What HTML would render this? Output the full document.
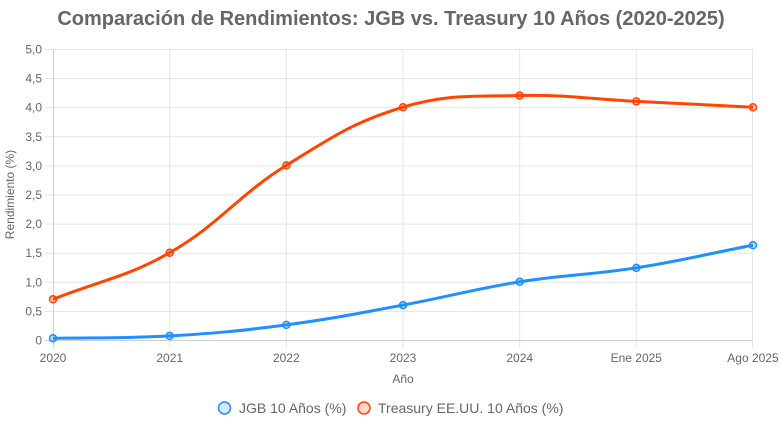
<!DOCTYPE html>
<html><head><meta charset="utf-8"><style>
html,body{margin:0;padding:0;background:#fff;}
svg{display:block;font-family:"Liberation Sans",Arial,sans-serif;}
</style></head><body>
<svg id="c" width="782" height="425" viewBox="0 0 782 425" xmlns="http://www.w3.org/2000/svg">
<text x="391" y="25" text-anchor="middle" font-size="20" font-weight="bold" fill="#666">Comparación de Rendimientos: JGB vs. Treasury 10 Años (2020-2025)</text>
<g stroke="#e5e5e5" stroke-width="1">
<line x1="45" y1="49.5" x2="753" y2="49.5"/>
<line x1="45" y1="78.6" x2="753" y2="78.6"/>
<line x1="45" y1="107.7" x2="753" y2="107.7"/>
<line x1="45" y1="136.8" x2="753" y2="136.8"/>
<line x1="45" y1="165.9" x2="753" y2="165.9"/>
<line x1="45" y1="195" x2="753" y2="195"/>
<line x1="45" y1="224.1" x2="753" y2="224.1"/>
<line x1="45" y1="253.2" x2="753" y2="253.2"/>
<line x1="45" y1="282.3" x2="753" y2="282.3"/>
<line x1="45" y1="311.4" x2="753" y2="311.4"/>
<line x1="169.7" y1="49" x2="169.7" y2="348"/>
<line x1="286.3" y1="49" x2="286.3" y2="348"/>
<line x1="403" y1="49" x2="403" y2="348"/>
<line x1="519.7" y1="49" x2="519.7" y2="348"/>
<line x1="636.3" y1="49" x2="636.3" y2="348"/>
<line x1="752.5" y1="49" x2="752.5" y2="348"/>
</g>
<g stroke="#cfcfcf" stroke-width="1">
<line x1="53.5" y1="49" x2="53.5" y2="348"/>
<line x1="45" y1="340.5" x2="753" y2="340.5"/>
</g>
<g font-size="12" fill="#666" text-anchor="end">
<text x="42" y="53.5">5,0</text>
<text x="42" y="82.6">4,5</text>
<text x="42" y="111.7">4,0</text>
<text x="42" y="140.8">3,5</text>
<text x="42" y="169.9">3,0</text>
<text x="42" y="199">2,5</text>
<text x="42" y="228.1">2,0</text>
<text x="42" y="257.2">1,5</text>
<text x="42" y="286.3">1,0</text>
<text x="42" y="315.4">0,5</text>
<text x="42" y="344.5">0</text>
</g>
<g font-size="12" fill="#666" text-anchor="middle">
<text x="53" y="362">2020</text>
<text x="169.7" y="362">2021</text>
<text x="286.3" y="362">2022</text>
<text x="403" y="362">2023</text>
<text x="519.7" y="362">2024</text>
<text x="636.3" y="362">Ene 2025</text>
<text x="753" y="362">Ago 2025</text>
<text x="403" y="383">Año</text>
</g>
<text transform="translate(14,194.5) rotate(-90)" font-size="12" fill="#666" text-anchor="middle">Rendimiento (%)</text>
<path id="p1" fill="none" stroke="#1E90FF" stroke-width="3"/>
<path id="p2" fill="none" stroke="#FF4500" stroke-width="3"/>
<g id="pts"></g>
<circle cx="224.5" cy="408" r="6" fill="rgba(30,144,255,0.2)" stroke="#1E90FF" stroke-width="1.5"/>
<text x="239" y="413" font-size="14" fill="#666">JGB 10 Años (%)</text>
<circle cx="364" cy="408" r="6" fill="rgba(255,69,0,0.2)" stroke="#FF4500" stroke-width="1.5"/>
<text x="378" y="413" font-size="14" fill="#666">Treasury EE.UU. 10 Años (%)</text>
</svg>
<script>
(function(){
var x0=53,x1=753,y0=340,yTop=49;
function X(i){return x0+i*(x1-x0)/6;}
function Y(v){return y0-v*(y0-yTop)/5;}
var d1=[0.03,0.07,0.26,0.6,1.0,1.24,1.63];
var d2=[0.7,1.5,3.0,4.0,4.2,4.1,4.0];
function build(d){
 var p=d.map(function(v,i){return {x:X(i),y:Y(v)};});
 var t=0.4,cps=[];
 for(var i=0;i<p.length;i++){
  var prev=p[i-1]||p[i],cur=p[i],next=p[i+1]||p[i];
  var d01=Math.hypot(cur.x-prev.x,cur.y-prev.y),d12=Math.hypot(next.x-cur.x,next.y-cur.y);
  var s01=d01/(d01+d12),s12=d12/(d01+d12);
  if(isNaN(s01))s01=0;if(isNaN(s12))s12=0;
  var fa=t*s01,fb=t*s12;
  cps.push({px:cur.x-fa*(next.x-prev.x),py:cur.y-fa*(next.y-prev.y),nx:cur.x+fb*(next.x-prev.x),ny:cur.y+fb*(next.y-prev.y)});
 }
 var s="M"+p[0].x+","+p[0].y;
 for(var i=1;i<p.length;i++){
  s+=" C"+cps[i-1].nx+","+cps[i-1].ny+" "+cps[i].px+","+cps[i].py+" "+p[i].x+","+p[i].y;
 }
 return {s:s,p:p};
}
var a=build(d1),b=build(d2);
document.getElementById('p1').setAttribute('d',a.s);
document.getElementById('p2').setAttribute('d',b.s);
var g=document.getElementById('pts'),ns="http://www.w3.org/2000/svg";
function dots(p,fill,stroke){p.forEach(function(q){var c=document.createElementNS(ns,'circle');c.setAttribute('cx',q.x);c.setAttribute('cy',q.y);c.setAttribute('r',3.5);c.setAttribute('fill',fill);c.setAttribute('stroke',stroke);c.setAttribute('stroke-width',1.5);g.appendChild(c);});}
dots(a.p,'rgba(30,144,255,0.3)','#1E90FF');
dots(b.p,'rgba(255,69,0,0.3)','#FF4500');
})();
</script>
</body></html>
